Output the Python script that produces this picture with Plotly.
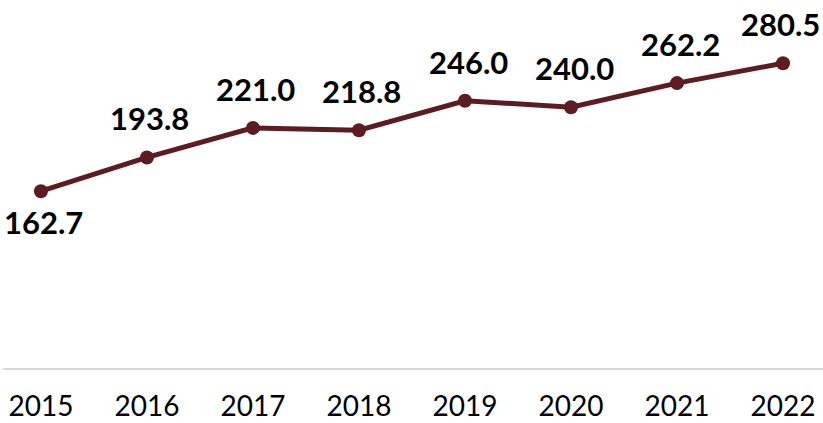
import plotly.graph_objects as go

years = [2015, 2016, 2017, 2018, 2019, 2020, 2021, 2022]
values = [162.7, 193.8, 221.0, 218.8, 246.0, 240.0, 262.2, 280.5]
labels = ["162.7", "193.8", "221.0", "218.8", "246.0", "240.0", "262.2", "280.5"]

color = "#5C1C22"
fig = go.Figure()
fig.add_trace(go.Scatter(
    x=years, y=values, mode="lines+markers",
    line=dict(color=color, width=5),
    marker=dict(color=color, size=14),
    hoverinfo="skip", cliponaxis=False,
))

n = len(years)
for i, (x, y, t) in enumerate(zip(years, values, labels)):
    fig.add_annotation(
        x=x, y=y, text="<b>%s</b>" % t, showarrow=False,
        yshift=-31 if i == 0 else 39,
        xshift=-3 if i == n - 1 else 3,
        font=dict(family="Lato", size=31, color="#000000"),
    )

fig.update_layout(
    width=823, height=423,
    margin=dict(l=3, r=0, t=0, b=55, autoexpand=False),
    paper_bgcolor="white", plot_bgcolor="white",
    showlegend=False,
    xaxis=dict(
        range=[2014.642, 2022.377], automargin=False,
        tickmode="array", tickvals=years, ticktext=[str(y) for y in years],
        showgrid=False, zeroline=False,
        showline=True, linecolor="#D9D9D9", linewidth=2,
        ticks="outside", ticklen=12, tickcolor="rgba(0,0,0,0)",
        tickfont=dict(family="Lato", size=28, color="#000000"),
    ),
    yaxis=dict(range=[0, 338.7], visible=False, showgrid=False, zeroline=False, automargin=False),
)

fig.write_html("out.html")
